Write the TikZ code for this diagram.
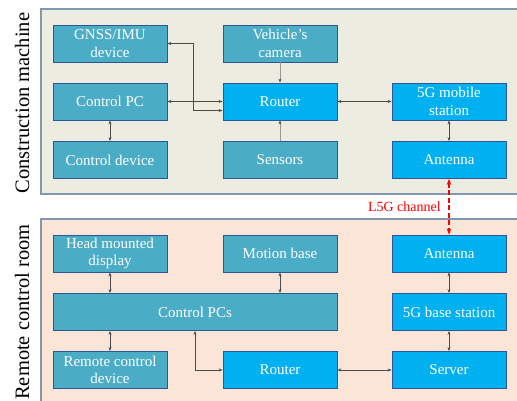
\documentclass[tikz,border=0pt]{standalone}
\usepackage{fontspec}
\setmainfont{Liberation Serif}
\usepackage{xcolor}
\definecolor{tealbox}{RGB}{75, 172, 198}
\definecolor{bluebox}{RGB}{0, 176, 240}
\definecolor{boxedge}{RGB}{47, 85, 151}
\definecolor{machinebg}{RGB}{236, 237, 224}
\definecolor{roombg}{RGB}{251, 229, 214}
\definecolor{paneledge}{RGB}{132, 151, 176}
\usetikzlibrary{
  arrows.meta,
  positioning
}

\begin{document}
\begin{tikzpicture}[
  x=1pt, y=-1pt,
  unit/.style={
    draw=boxedge, line width=0.8pt, minimum width=114pt,
    minimum height=37pt, align=center, inner sep=2pt,
    text=white, font=\fontsize{15}{17.5}\selectfont
  },
  devbox/.style={unit, fill=tealbox},
  netbox/.style={unit, fill=bluebox},
  link/.style={draw=black!70, line width=0.6pt, {Stealth[length=4pt]}-{Stealth[length=4pt]}},
  feed/.style={draw=black!40, line width=0.8pt, -{Stealth[length=4pt,color=black!70]}},
  panel/.style={draw=paneledge, line width=1.5pt},
  side/.style={rotate=90, font=\fontsize{20.5}{22}\selectfont}
]
\useasboundingbox (0,0) rectangle (517,401);

% panels
\draw[panel, fill=machinebg] (41,9) rectangle (518,194);
\draw[panel, fill=roombg] (41,219) rectangle (518,404);
\node[side] (machine) at (22,103) {Construction machine};
\node[side] (room) at (22,312) {Remote control room};

% construction machine
\node[devbox] (gnss) at (110,43.5) {GNSS/IMU\\device};
\node[devbox] (cpc) at (110,101.5) {Control PC};
\node[devbox] (cdev) at (110,160) {Control device};
\node[devbox] (cam) at (280,43.5) {Vehicle's\\camera};
\node[netbox] (rtr) at (280,101.5) {Router};
\node[devbox] (sens) at (280,160) {Sensors};
\node[netbox] (mob) at (449,101.5) {5G mobile\\station};
\node[netbox] (ant) at (449,160) {Antenna};

\draw[link] (gnss.east) -- (193,43.5) |- ([yshift=-9pt]rtr.west);
\draw[link] (cpc.east) -- (rtr.west);
\draw[link] (cpc.south) -- (cdev.north);
\draw[feed] (cam.south) -- (rtr.north);
\draw[feed] (sens.north) -- (rtr.south);
\draw[link] (rtr.east) -- (mob.west);
\draw[link] (mob.south) -- (ant.north);

% remote control room
\node[devbox] (hmd) at (110,253.5) {Head mounted\\display};
\node[devbox, minimum width=284pt] (pcs) at (195,312) {Control PCs};
\node[devbox] (rdev) at (110,370) {Remote control\\device};
\node[devbox] (mbase) at (280,253.5) {Motion base};
\node[netbox] (rrtr) at (280,370) {Router};
\node[netbox] (bant) at (449,253.5) {Antenna};
\node[netbox] (bst) at (449,312) {5G base station};
\node[netbox] (srv) at (449,370) {Server};

\draw[link] (hmd.south) -- (hmd.south |- pcs.north);
\draw[link] (mbase.south) -- (mbase.south |- pcs.north);
\draw[link] (rdev.north) -- (rdev.north |- pcs.south);
\draw[link] (pcs.south) |- (rrtr.west);
\draw[link] (rrtr.east) -- (srv.west);
\draw[link] (bant.south) -- (bst.north);
\draw[link] (bst.south) -- (srv.north);

% wireless link
\draw[red, line width=1.8pt, dash pattern=on 5pt off 2.5pt, {Stealth[length=6pt]}-{Stealth[length=6pt]}]
  (ant.south) -- node[left=4pt, font=\fontsize{14}{15}\selectfont] (l5g) {L5G channel} (bant.north);
\end{tikzpicture}
\end{document}
